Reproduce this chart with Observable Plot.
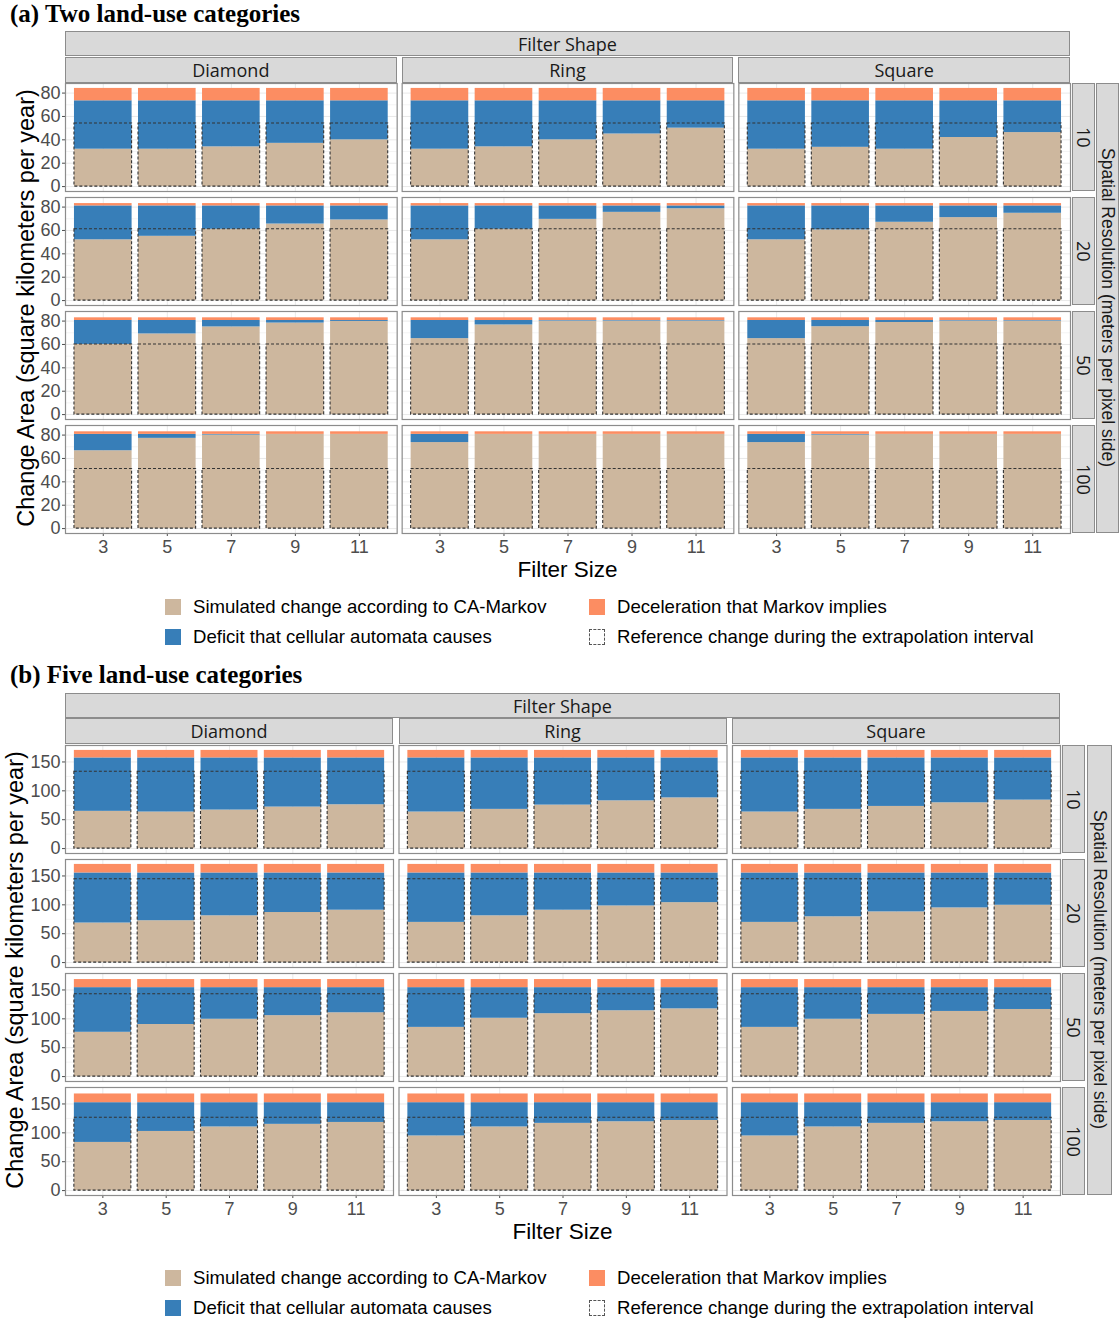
<!DOCTYPE html>
<html>
<head>
<meta charset="utf-8">
<script src="https://cdn.jsdelivr.net/npm/d3@7"></script>
<script src="https://cdn.jsdelivr.net/npm/@observablehq/plot@0.6"></script>
<style>
  body { margin: 0; background: #fff; font-family: "Liberation Sans", Arial, sans-serif; }
  #root { position: relative; width: 1119px; height: 1323px; overflow: hidden; background: #fff; }
  .abs { position: absolute; white-space: nowrap; }
  .strip { position: absolute; background: #d9d9d9; border: 1px solid #8c8c8c; box-sizing: border-box;
           display: flex; align-items: center; justify-content: center;
           font-family: "Open Sans", sans-serif; font-size: 18px; color: #1a1a1a; line-height: 1; }
  .vtext { writing-mode: vertical-rl; line-height: 1; white-space: nowrap; }
  .outer { font-family: "Liberation Sans", Arial, sans-serif; }
  .title { font-family: "Liberation Serif", "Times New Roman", serif; font-weight: bold; font-size: 25px; color: #000; }
  .key { position: absolute; width: 16px; height: 16px; box-sizing: border-box; }
  .legtext { font-size: 18.6px; color: #000; }
</style>
</head>
<body>
<div id="root"></div>
<script>
// ---------- shared categories ----------
const shapes = ["Diamond", "Ring", "Square"];
const resolutions = [10, 20, 50, 100];
const filterSizes = [3, 5, 7, 9, 11];

// ---------- (a) Two land-use categories ----------
// simulated change by CA-Markov, rows = resolution 10/20/50/100, cols = filter 3..11
const simA_Diamond = [[32, 32, 34, 37, 40], [52, 55, 61, 65.5, 69], [60, 69, 75, 78.3, 79.7], [66.6, 77.2, 80, 80.6, 80.6]];
const simA_Ring    = [[32, 34, 40, 45, 50], [52, 61, 69.5, 75.5, 78.6], [65, 76.7, 80, 80, 80], [73.6, 80.6, 80.6, 80.6, 80.6]];
const simA_Square  = [[32, 33.6, 32, 42, 46.2], [52, 60.5, 67, 71, 74.7], [65, 75.2, 78.8, 80, 80], [73.6, 80, 80.6, 80.6, 80.6]];
const markovNoCA_A = [73.4, 81, 80.5, 80.6];   // top of the deficit (blue)
const markovTotal_A = [84, 83, 82.8, 82.8];    // top of the deceleration (orange)
const reference_A = [54, 61, 60, 51];          // dashed reference change

// ---------- (b) Five land-use categories ----------
const simB_Diamond = [[64.5, 63.3, 66.7, 71.9, 75.9], [68.5, 72.5, 81, 86.7, 90.7], [76.7, 90.2, 99.3, 105.5, 110.5], [83.4, 102.4, 110.2, 114.7, 118]];
const simB_Ring    = [[63.3, 67.9, 75.3, 82.7, 87.8], [69.6, 81, 90.7, 98.1, 103.8], [85.2, 101, 108.9, 114, 117.3], [94.6, 110.2, 116.4, 119.2, 121.4]];
const simB_Square  = [[63.3, 67.9, 73, 79.3, 83.9], [69.6, 79.3, 87.8, 94.7, 99.3], [85.2, 99.3, 107.7, 112.8, 116.2], [94.6, 110.2, 116.4, 119.2, 121.4]];
const markovNoCA_B = [157, 155.2, 154, 152.2];
const markovTotal_B = [170, 170, 168, 167.3];
const reference_B = [133, 144.3, 142.7, 126];

// ---------- tick labels ----------
const yTicksA = [0, 20, 40, 60, 80];
const yMinorA = [10, 30, 50, 70];
const yTicksB = [0, 50, 100, 150];
const yMinorB = [25, 75, 125];

// ---------- legend / text ----------
const legendItems = [
  {label: "Simulated change according to CA-Markov", kind: "tan"},
  {label: "Deceleration that Markov implies", kind: "orange"},
  {label: "Deficit that cellular automata causes", kind: "blue"},
  {label: "Reference change during the extrapolation interval", kind: "ref"}
];
const COLORS = {tan: "#cdb79e", blue: "#377eb8", orange: "#fc8d62"};

function makeRows(simByShape, blueTop, total, ref) {
  const rows = [];
  resolutions.forEach((res, ri) => shapes.forEach((shape, si) => filterSizes.forEach((f, fi) => {
    rows.push({res, shape, filter: f, sim: simByShape[si][ri][fi], blue: blueTop[ri], total: total[ri], ref: ref[ri]});
  })));
  return rows;
}

const root = document.getElementById("root");
function div(cls, style, text) {
  const d = document.createElement("div");
  if (cls) d.className = cls;
  Object.assign(d.style, style);
  if (text != null) d.textContent = text;
  root.appendChild(d);
  return d;
}

function buildPanel(cfg) {
  const W = 1119;
  const mt = 10, mb = 32;
  const svgTop = cfg.top - mt;
  const svgH = mt + (cfg.bottom - cfg.top) + mb;
  const fyPad = 6 / 114;

  const plot = Plot.plot({
    width: W,
    height: svgH,
    marginLeft: cfg.left,
    marginRight: W - cfg.right,
    marginTop: mt,
    marginBottom: mb,
    style: {fontFamily: "Liberation Sans, Arial, sans-serif", fontSize: "18px", color: "#4d4d4d", background: "transparent", overflow: "visible"},
    facet: {data: cfg.rows, x: "shape", y: "res"},
    fx: {domain: shapes, axis: null, label: null, paddingInner: cfg.fxPad, paddingOuter: 0, round: false},
    fy: {domain: resolutions, axis: null, label: null, paddingInner: fyPad, paddingOuter: 0, round: false},
    x: {domain: filterSizes, paddingInner: 0.1, paddingOuter: 0.14, round: false, tickSize: 3, tickPadding: 4, label: null},
    y: {domain: cfg.ydomain, ticks: cfg.yticks, tickSize: 3, tickPadding: 2, label: null},
    marks: [
      Plot.gridY(cfg.yminor, {stroke: "#f4f4f4", strokeOpacity: 1}),
      Plot.gridY(cfg.yticks, {stroke: "#e9e9e9", strokeOpacity: 1}),
      Plot.gridX(filterSizes, {stroke: "#e9e9e9", strokeOpacity: 1}),
      Plot.barY(cfg.rows, {x: "filter", y1: 0, y2: "sim", fill: COLORS.tan}),
      Plot.barY(cfg.rows, {x: "filter", y1: "sim", y2: "blue", fill: COLORS.blue}),
      Plot.barY(cfg.rows, {x: "filter", y1: "blue", y2: "total", fill: COLORS.orange}),
      Plot.barY(cfg.rows, {x: "filter", y1: 0, y2: "ref", fill: "none", stroke: "#333", strokeWidth: 1.1, strokeDasharray: "3,2"}),
      Plot.frame({stroke: "#8c8c8c", strokeWidth: 1.2})
    ]
  });
  plot.style.position = "absolute";
  plot.style.left = "0px";
  plot.style.top = svgTop + "px";
  root.appendChild(plot);

  // facet geometry (same band parameters as the plot)
  const fx = d3.scaleBand().domain(shapes).range([cfg.left, cfg.right]).paddingInner(cfg.fxPad).paddingOuter(0);
  const fy = d3.scaleBand().domain(resolutions).range([cfg.top, cfg.bottom]).paddingInner(fyPad).paddingOuter(0);

  // title
  div("abs title", {left: "10px", top: (cfg.titleY - 15) + "px"}, cfg.title);
  // Filter Shape strip
  div("strip", {left: cfg.left + "px", top: cfg.shapeStripY + "px", width: (cfg.right - cfg.left) + "px", height: "25px"}, "Filter Shape");
  // column strips
  shapes.forEach(s => div("strip", {left: fx(s) + "px", top: cfg.colStripY + "px", width: fx.bandwidth() + "px", height: "26px"}, s));
  // row strips
  resolutions.forEach(r => {
    const d = div("strip", {left: cfg.rowStripX + "px", top: fy(r) + "px", width: "23px", height: fy.bandwidth() + "px"});
    const t = document.createElement("span"); t.className = "vtext"; t.textContent = String(r); d.appendChild(t);
  });
  // outer strip
  const o = div("strip outer", {left: cfg.outerX + "px", top: cfg.top + "px", width: cfg.outerW + "px", height: (cfg.bottom - cfg.top) + "px", fontSize: cfg.outerFont});
  const ot = document.createElement("span"); ot.className = "vtext"; ot.textContent = "Spatial Resolution (meters per pixel side)"; o.appendChild(ot);

  // y axis title
  div("abs", {left: cfg.yTitleX + "px", top: ((cfg.top + cfg.bottom) / 2) + "px", transform: "translate(-50%,-50%) rotate(-90deg)",
              fontSize: "23.5px", color: "#000"}, "Change Area (square kilometers per year)");
  // x axis title
  div("abs", {left: ((cfg.left + cfg.right) / 2) + "px", top: cfg.xTitleY + "px", transform: "translate(-50%,-50%)",
              fontSize: "22.5px", color: "#000"}, "Filter Size");

  // legend
  const cols = [165, 589], textCols = [193, 617];
  legendItems.forEach((it, i) => {
    const col = i % 2, row = Math.floor(i / 2);
    const y = cfg.legendY[row];
    const k = div("key", {left: cols[col] + "px", top: (y - 8) + "px"});
    if (it.kind === "ref") { k.style.border = "1px dashed #555"; k.style.background = "#fff"; }
    else k.style.background = COLORS[it.kind];
    div("abs legtext", {left: textCols[col] + "px", top: (y - 11) + "px"}, it.label);
  });
}

buildPanel({
  title: "(a) Two land-use categories",
  rows: makeRows([simA_Diamond, simA_Ring, simA_Square], markovNoCA_A, markovTotal_A, reference_A),
  top: 83, bottom: 533, left: 65, right: 1070, fxPad: 5 / 337,
  ydomain: [-4.2, 88.2], yticks: yTicksA, yminor: yMinorA,
  titleY: 15, shapeStripY: 31, colStripY: 57, rowStripX: 1072, outerX: 1096, outerW: 23, outerFont: "17.5px",
  yTitleX: 26, xTitleY: 570, legendY: [607, 637]
});

buildPanel({
  title: "(b) Five land-use categories",
  rows: makeRows([simB_Diamond, simB_Ring, simB_Square], markovNoCA_B, markovTotal_B, reference_B),
  top: 745, bottom: 1195, left: 65, right: 1060, fxPad: 5.5 / 333.5,
  ydomain: [-8.5, 178.5], yticks: yTicksB, yminor: yMinorB,
  titleY: 676, shapeStripY: 693, colStripY: 718, rowStripX: 1062, outerX: 1087, outerW: 25, outerFont: "17.5px",
  yTitleX: 15, xTitleY: 1232, legendY: [1278, 1308]
});
</script>
</body>
</html>
